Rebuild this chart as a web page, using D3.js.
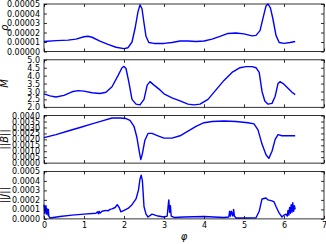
<!DOCTYPE html>
<html>
<head>
<meta charset="utf-8">
<script src="https://cdn.jsdelivr.net/npm/d3@7"></script>
<style>
  body { margin: 0; background: #fff; }
  svg { display: block; }
  text { font-family: "DejaVu Sans", sans-serif; }
</style>
</head>
<body>
<div id="chart"></div>
<script>
"use strict";

// x ticks shared by all panels
const xTicks = [0, 1, 2, 3, 4, 5, 6, 7];

// density rho
const rhoPhi = [0, 0.3, 0.6, 0.8, 1.0, 1.1, 1.2, 1.4, 1.6, 1.8, 2.0, 2.1, 2.2, 2.28, 2.35, 2.4, 2.45, 2.5, 2.55, 2.62, 2.75, 3.0, 3.2, 3.4, 3.6, 3.8, 4.0, 4.2, 4.4, 4.6, 4.8, 5.0, 5.2, 5.3, 5.4, 5.48, 5.55, 5.6, 5.66, 5.72, 5.8, 5.88, 6.0, 6.15, 6.28];
const rhoVal = [1.05, 1.15, 1.2, 1.3, 1.55, 1.6, 1.5, 1.1, 0.75, 0.45, 0.3, 0.4, 1.0, 2.5, 4.2, 4.9, 4.5, 3.0, 1.6, 0.95, 0.85, 0.85, 0.95, 1.1, 1.1, 1.05, 1.1, 1.3, 1.6, 1.9, 1.95, 1.85, 1.65, 1.7, 2.2, 3.6, 4.8, 5.0, 4.6, 3.5, 1.7, 0.95, 0.85, 0.95, 1.05].map(v => v * 1e-5);
const rhoTicks = [0, 1e-5, 2e-5, 3e-5, 4e-5, 5e-5];

// Mach number M
const mPhi = [0, 0.15, 0.3, 0.5, 0.7, 0.85, 1.0, 1.2, 1.4, 1.55, 1.7, 1.85, 1.95, 2.0, 2.05, 2.12, 2.2, 2.3, 2.4, 2.5, 2.58, 2.65, 2.75, 2.9, 3.0, 3.2, 3.4, 3.6, 3.75, 3.9, 4.1, 4.3, 4.5, 4.7, 4.9, 5.05, 5.2, 5.3, 5.38, 5.45, 5.52, 5.6, 5.7, 5.78, 5.85, 5.9, 5.98, 6.1, 6.2, 6.28];
const mVal = [2.85, 2.72, 2.65, 2.75, 2.98, 3.05, 3.02, 2.92, 2.87, 2.95, 3.3, 4.0, 4.5, 4.58, 4.45, 3.6, 2.5, 2.2, 2.15, 2.5, 3.4, 3.62, 3.4, 3.1, 2.85, 2.6, 2.4, 2.2, 2.15, 2.2, 2.5, 3.1, 3.7, 4.2, 4.5, 4.57, 4.57, 4.5, 4.2, 3.0, 2.4, 2.2, 2.25, 2.7, 3.5, 3.62, 3.5, 3.2, 2.95, 2.8];
const mTicks = [2.0, 2.5, 3.0, 3.5, 4.0, 4.5, 5.0];

// magnetic field ||B||
const bPhi = [0, 0.3, 0.6, 0.9, 1.2, 1.5, 1.7, 1.9, 2.05, 2.15, 2.25, 2.32, 2.38, 2.42, 2.46, 2.52, 2.6, 2.7, 2.85, 3.0, 3.2, 3.4, 3.6, 3.8, 4.0, 4.2, 4.5, 4.8, 5.1, 5.25, 5.35, 5.45, 5.55, 5.62, 5.7, 5.78, 5.85, 5.95, 6.1, 6.28];
const bVal = [2.15, 2.4, 2.7, 3.0, 3.3, 3.6, 3.8, 3.8, 3.75, 3.6, 3.1, 2.2, 1.0, 0.3, 0.8, 1.9, 2.5, 2.5, 2.3, 2.1, 2.1, 2.3, 2.7, 3.1, 3.4, 3.5, 3.55, 3.5, 3.4, 3.3, 2.8, 1.6, 0.7, 0.4, 1.0, 2.0, 2.4, 2.3, 2.3, 2.3].map(v => v * 1e-3);
const bTicks = [0, 0.0005, 0.001, 0.0015, 0.002, 0.0025, 0.003, 0.0035, 0.004];

// current density ||J||
const jPhi = [0, 0.01, 0.02, 0.03, 0.04, 0.05, 0.06, 0.07, 0.08, 0.09, 0.1, 0.11, 0.12, 0.15, 0.4, 0.7, 1.0, 1.3, 1.34, 1.36, 1.38, 1.4, 1.45, 1.55, 1.6, 1.65, 1.7, 1.78, 1.83, 1.88, 1.92, 2.0, 2.1, 2.2, 2.3, 2.36, 2.4, 2.43, 2.46, 2.5, 2.55, 2.6, 2.7, 2.85, 3.0, 3.08, 3.1, 3.12, 3.14, 3.16, 3.18, 3.25, 3.5, 4.0, 4.5, 4.62, 4.64, 4.66, 4.68, 4.72, 4.74, 4.76, 4.8, 5.0, 5.3, 5.38, 5.45, 5.55, 5.6, 5.7, 5.75, 5.8, 5.88, 5.95, 6.0, 6.05, 6.08, 6.1, 6.12, 6.14, 6.16, 6.18, 6.2, 6.22, 6.24, 6.26, 6.28];
const jVal = [1.5, 1.2, 0.6, 1.3, 0.9, 1.4, 0.5, 1.1, 0.7, 1.0, 0.4, 1.0, 0.3, 0.1, 0.25, 0.4, 0.5, 0.6, 0.75, 0.55, 0.8, 0.6, 0.8, 0.9, 0.85, 1.0, 1.05, 1.2, 1.5, 1.2, 0.75, 0.9, 1.1, 1.5, 2.1, 3.0, 4.2, 4.6, 4.0, 1.3, 0.5, 0.2, 0.5, 0.3, 0.2, 0.3, 1.2, 2.0, 0.7, 1.4, 0.3, 0.15, 0.2, 0.25, 0.15, 0.2, 0.8, 0.3, 0.8, 0.3, 1.0, 0.3, 0.1, 0.1, 0.12, 0.8, 2.1, 2.2, 2.0, 1.9, 1.8, 1.3, 0.6, 0.2, 0.4, 0.5, 0.3, 0.9, 0.4, 1.2, 0.6, 1.5, 0.7, 1.7, 0.8, 1.4, 1.0].map(v => v * 1e-4);
const jTicks = [0, 0.0001, 0.0002, 0.0003, 0.0004, 0.0005];

const panels = [
  { label: "ρ", x: rhoPhi, y: rhoVal, ticks: rhoTicks, fmt: d3.format(".5f") },
  { label: "M", x: mPhi, y: mVal, ticks: mTicks, fmt: d3.format(".1f") },
  { label: "||B||", x: bPhi, y: bVal, ticks: bTicks, fmt: d3.format(".4f") },
  { label: "||J||", x: jPhi, y: jVal, ticks: jTicks, fmt: d3.format(".4f") },
];

const W = 326, H = 244;
const left = 44, right = 324, top0 = 4, ph = 47.5, gap = 8.3;

const svg = d3.select("#chart").append("svg").attr("width", W).attr("height", H);

const x = d3.scaleLinear().domain([0, 7]).range([left, right]);

panels.forEach((p, i) => {
  const t = top0 + i * (ph + gap);
  const b = t + ph;
  const y = d3.scaleLinear().domain([p.ticks[0], p.ticks[p.ticks.length - 1]]).range([b, t]);
  const g = svg.append("g");

  const line = d3.line().x((d) => x(d[0])).y((d) => y(d[1]));
  g.append("path")
    .datum(p.x.map((v, k) => [v, p.y[k]]))
    .attr("d", line)
    .attr("fill", "none")
    .attr("stroke", "#0000ff")
    .attr("stroke-width", 1.4)
    .attr("stroke-linejoin", "round");

  // inward ticks on all four sides
  const tk = 3;
  g.append("g").attr("transform", `translate(0,${b})`)
    .call(d3.axisBottom(x).tickValues(xTicks).tickSizeInner(-tk).tickSizeOuter(0).tickFormat(i === 3 ? d3.format("d") : ""));
  g.append("g").attr("transform", `translate(0,${t})`)
    .call(d3.axisTop(x).tickValues(xTicks).tickSizeInner(-tk).tickSizeOuter(0).tickFormat(""));
  g.append("g").attr("transform", `translate(${left},0)`)
    .call(d3.axisLeft(y).tickValues(p.ticks).tickSizeInner(-tk).tickSizeOuter(0).tickPadding(4).tickFormat(p.fmt));
  g.append("g").attr("transform", `translate(${right},0)`)
    .call(d3.axisRight(y).tickValues(p.ticks).tickSizeInner(-tk).tickSizeOuter(0).tickFormat(""));

  g.selectAll(".domain").remove();
  g.selectAll(".tick line").attr("stroke", "#000").attr("stroke-width", 0.8);
  g.selectAll(".tick text").attr("font-size", 8).attr("fill", "#000")
    .attr("font-family", "DejaVu Sans");

  g.append("rect")
    .attr("x", left).attr("y", t).attr("width", right - left).attr("height", ph)
    .attr("fill", "none").attr("stroke", "#000").attr("stroke-width", 0.8);

  g.append("text")
    .attr("transform", `translate(8,${(t + b) / 2}) rotate(-90)`)
    .attr("text-anchor", "middle")
    .attr("font-family", "DejaVu Serif")
    .attr("font-style", "italic")
    .attr("font-size", 10)
    .text(p.label);
});

svg.append("text")
  .attr("x", (left + right) / 2)
  .attr("y", 240)
  .attr("text-anchor", "middle")
  .attr("font-family", "DejaVu Serif")
  .attr("font-style", "italic")
  .attr("font-size", 10)
  .text("φ");
</script>
</body>
</html>
